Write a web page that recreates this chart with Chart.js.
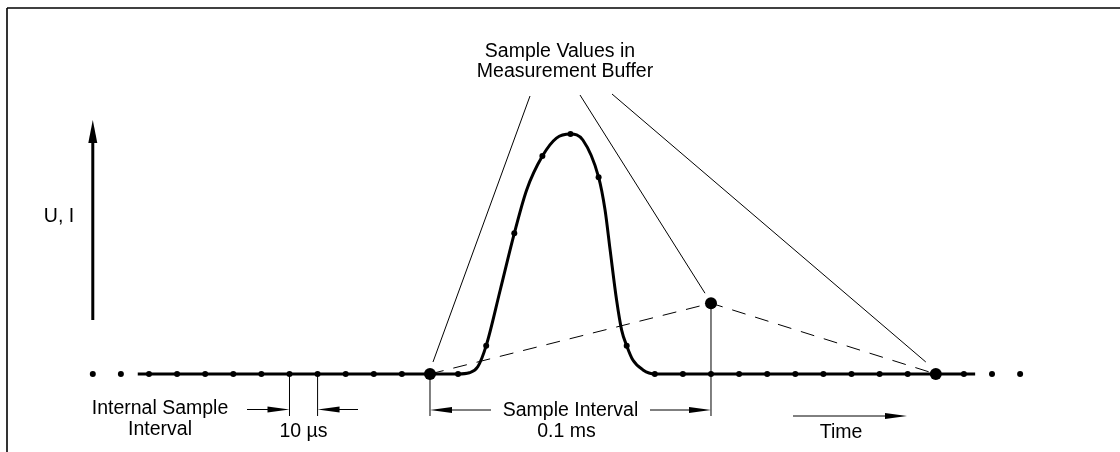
<!DOCTYPE html>
<html><head><meta charset="utf-8">
<script src="https://cdn.jsdelivr.net/npm/chart.js@4/dist/chart.umd.min.js"></script>
<style>html,body{margin:0;padding:0;background:#fff}#wrap{width:1120px;height:452px;position:relative}</style>
</head><body><div id="wrap"><canvas id="c"></canvas></div>
<script>
// time in microseconds, amplitude in relative units
const waveTimes  = [-104, 0, 10, 14, 17, 20, 25, 30, 34.4, 40, 45, 50, 54.4, 60, 62.3, 64.1, 66.4, 68.2, 70, 72.2, 75.8, 80, 100, 194];
const waveValues = [0, 0, 0, 0.005, 0.03, 0.118, 0.35, 0.586, 0.767, 0.908, 0.983, 1.0, 0.975, 0.82, 0.683, 0.517, 0.308, 0.183, 0.118, 0.058, 0.017, 0, 0, 0];

const sampleTimes  = [-120, -110, -100, -90, -80, -70, -60, -50, -40, -30, -20, -10, 0, 10, 20, 30, 40, 50, 60, 70, 80, 90, 100, 110, 120, 130, 140, 150, 160, 170, 180, 190, 200, 210];
const sampleValues = [0, 0, 0, 0, 0, 0, 0, 0, 0, 0, 0, 0, 0, 0, 0.118, 0.586, 0.908, 1.0, 0.82, 0.118, 0, 0, 0, 0, 0, 0, 0, 0, 0, 0, 0, 0, 0, 0];

const bufferTimes  = [0, 100, 180];
const bufferValues = [0, 0.295, 0];

const labelTop = ["Sample Values in", "Measurement Buffer"];
const labelY = "U, I";
const labelInternal = ["Internal Sample", "Interval"];
const labelInternalValue = "10 µs";
const labelSample = ["Sample Interval", "0.1 ms"];
const labelTime = "Time";

const toPts = (xs, ys) => xs.map((x, i) => ({x: x, y: ys[i]}));

const FONT = '19.5px "Liberation Sans", Arial, sans-serif';

const annot = {
  id: 'annot',
  afterDraw(chart) {
    const ctx = chart.ctx;
    const xs = chart.scales.x, ys = chart.scales.y;
    const X = v => xs.getPixelForValue(v);
    const Y = v => ys.getPixelForValue(v);
    ctx.save();
    ctx.strokeStyle = '#000';
    ctx.fillStyle = '#000';
    ctx.lineCap = 'butt';

    const line = (x1, y1, x2, y2, w) => {
      ctx.lineWidth = w || 1;
      ctx.beginPath(); ctx.moveTo(x1, y1); ctx.lineTo(x2, y2); ctx.stroke();
    };
    const head = (tx, ty, dir, len, hw) => {
      ctx.beginPath();
      if (dir === 'r') { ctx.moveTo(tx, ty); ctx.lineTo(tx - len, ty - hw); ctx.lineTo(tx - len, ty + hw); }
      if (dir === 'l') { ctx.moveTo(tx, ty); ctx.lineTo(tx + len, ty - hw); ctx.lineTo(tx + len, ty + hw); }
      if (dir === 'u') { ctx.moveTo(tx, ty); ctx.lineTo(tx - hw, ty + len); ctx.lineTo(tx + hw, ty + len); }
      ctx.closePath(); ctx.fill();
    };
    const text = (s, x, y) => {
      ctx.font = FONT; ctx.textAlign = 'center'; ctx.textBaseline = 'alphabetic';
      ctx.fillText(s, x, y);
    };

    // frame
    line(7, 8, 1120, 8, 1.6);
    line(7, 8, 7, 452, 1.6);

    // y axis arrow
    const ax = X(-120);
    line(ax, 320, ax, 138, 3);
    head(ax, 120, 'u', 23, 4.5);
    text(labelY, 59, 221.5);

    // leader lines from top label to buffer samples
    line(530, 96, X(bufferTimes[0]) + 3, Y(bufferValues[0]) - 12, 1);
    line(580, 95, X(bufferTimes[1]) - 6, Y(bufferValues[1]) - 10, 1);
    line(612, 94, X(bufferTimes[2]) - 10, Y(bufferValues[2]) - 12, 1);
    text(labelTop[0], 560, 57);
    text(labelTop[1], 565, 77);

    const yb = Y(0);
    // internal sample interval dimension
    const a1 = X(-50), a2 = X(-40);
    line(a1, yb, a1, 416, 1);
    line(a2, yb, a2, 416, 1);
    line(247, 409.5, a1 - 10, 409.5, 1);
    head(a1, 409.5, 'r', 22, 3);
    line(358, 409.5, a2 + 10, 409.5, 1);
    head(a2, 409.5, 'l', 22, 3);
    text(labelInternal[0], 160, 413.5);
    text(labelInternal[1], 160, 434.5);
    text(labelInternalValue, (a1 + a2) / 2, 436.7);

    // sample interval dimension
    const b1 = X(0), b2 = X(100);
    line(b1, yb, b1, 416, 1);
    line(b2, Y(bufferValues[1]), b2, 416, 1);
    line(b1 + 10, 410, 491, 410, 1);
    head(b1, 410, 'l', 22, 3);
    line(650, 410, b2 - 10, 410, 1);
    head(b2, 410, 'r', 22, 3);
    text(labelSample[0], (b1 + b2) / 2, 416);
    text(labelSample[1], (b1 + b2) / 2 - 4, 436.7);

    // time arrow
    line(793, 416, 890, 416, 1);
    head(907, 416, 'r', 22, 3);
    text(labelTime, 841, 438.3);

    ctx.restore();
  }
};

new Chart(document.getElementById('c'), {
  type: 'line',
  data: {
    datasets: [
      { label: 'buffer', data: toPts(bufferTimes, bufferValues), showLine: false,
        pointRadius: 6, pointBackgroundColor: '#000', pointBorderWidth: 0, order: 0 },
      { label: 'internal', data: toPts(sampleTimes, sampleValues), showLine: false,
        pointRadius: 3, pointBackgroundColor: '#000', pointBorderWidth: 0, order: 1 },
      { label: 'wave', data: toPts(waveTimes, waveValues), borderColor: '#000', borderWidth: 3,
        pointRadius: 0, cubicInterpolationMode: 'monotone', fill: false, order: 2 },
      { label: 'reconstructed', data: toPts(bufferTimes, bufferValues), borderColor: '#000', borderWidth: 1,
        borderDash: [14, 10], pointRadius: 0, tension: 0, fill: false, order: 3 }
    ]
  },
  options: {
    responsive: true, maintainAspectRatio: false, animation: false,
    layout: { padding: 0, autoPadding: false },
    plugins: { legend: { display: false }, tooltip: { enabled: false } },
    events: [],
    scales: {
      x: { type: 'linear', display: false, min: -153.02, max: 245.55 },
      y: { type: 'linear', display: false, min: -0.325, max: 1.5583 }
    }
  },
  plugins: [annot]
});
</script>
</body></html>
